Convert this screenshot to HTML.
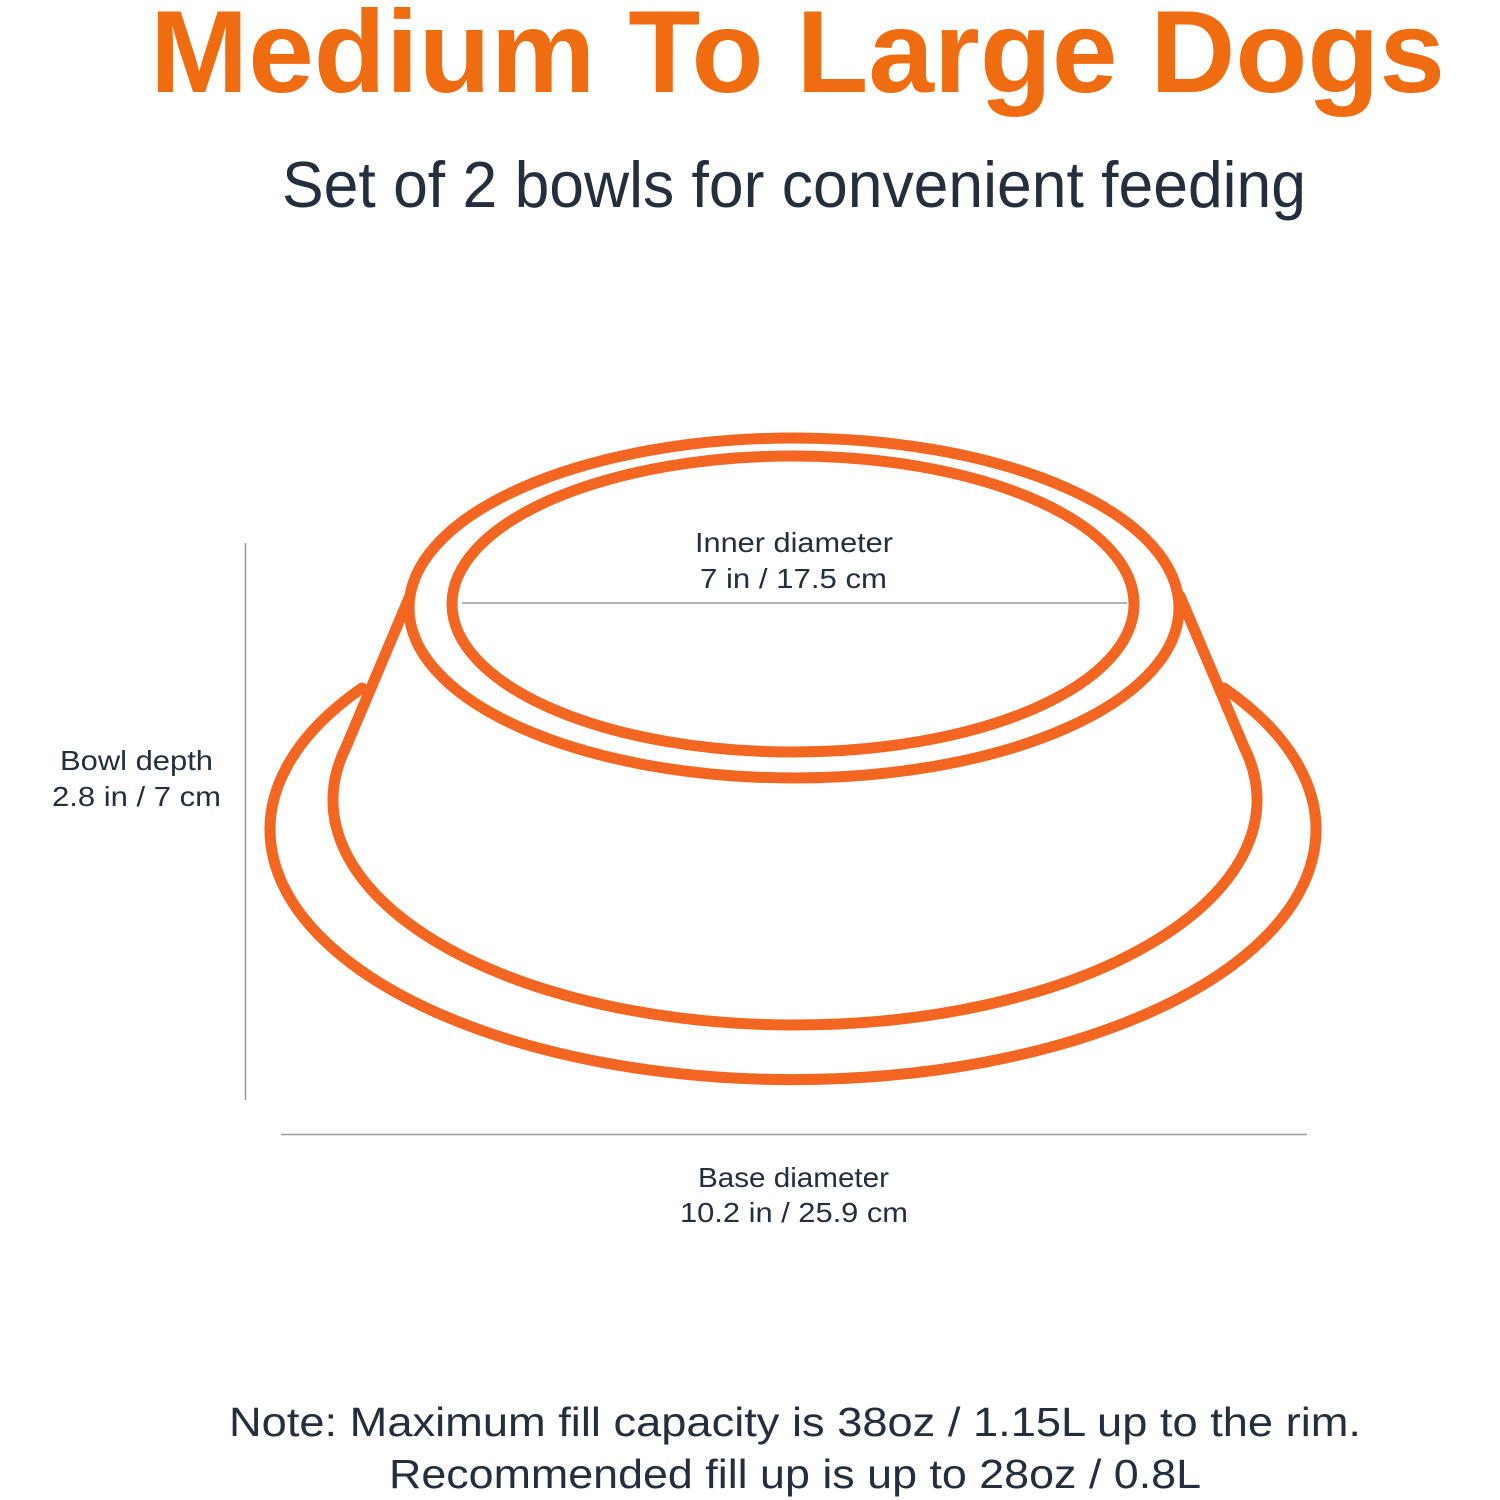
<!DOCTYPE html>
<html>
<head>
<meta charset="utf-8">
<style>
  html, body { margin: 0; padding: 0; background: #ffffff; }
  body { width: 1500px; height: 1500px; overflow: hidden; }
  svg { display: block; }
  .t { font-family: "Liberation Sans", "DejaVu Sans", sans-serif; }
</style>
</head>
<body>
<svg width="1500" height="1500" viewBox="0 0 1500 1500" xmlns="http://www.w3.org/2000/svg">
  <rect width="1500" height="1500" fill="#ffffff"/>

  <!-- Title -->
  <text class="t" x="150" y="92" font-size="117" font-weight="bold" fill="#F06C10" textLength="1295" lengthAdjust="spacingAndGlyphs">Medium To Large Dogs</text>
  <!-- Subtitle -->
  <text class="t" x="282" y="207" font-size="65" fill="#232F3E" textLength="1024" lengthAdjust="spacingAndGlyphs">Set of 2 bowls for convenient feeding</text>

  <!-- Bowl drawing -->
  <g fill="none" stroke="#F36622" stroke-width="11" stroke-linejoin="round" stroke-linecap="round">
    <!-- base flange -->
    <path d="M 362 688 A 523 250 0 1 0 1224 688"/>
    <!-- body -->
    <path d="M 409 598 L 346 747 A 462 225 0 1 0 1244 747 L 1180 596"/>
    <!-- outer rim -->
    <ellipse cx="794" cy="608" rx="385" ry="170"/>
    <!-- inner rim -->
    <ellipse cx="793" cy="604" rx="341" ry="148"/>
  </g>

  <!-- dimension lines -->
  <line x1="462" y1="603" x2="1127" y2="603" stroke="#9a9a9a" stroke-width="1.5"/>
  <line x1="245.5" y1="543" x2="245.5" y2="1100" stroke="#9a9a9a" stroke-width="1.5"/>
  <line x1="281" y1="1134.5" x2="1307" y2="1134.5" stroke="#9a9a9a" stroke-width="1.5"/>

  <!-- labels -->
  <g class="t" fill="#232F3E" font-size="28">
    <text x="695" y="552" textLength="198" lengthAdjust="spacingAndGlyphs">Inner diameter</text>
    <text x="700" y="588" textLength="187" lengthAdjust="spacingAndGlyphs">7 in / 17.5 cm</text>

    <text x="60" y="770" textLength="153" lengthAdjust="spacingAndGlyphs">Bowl depth</text>
    <text x="52" y="806" textLength="169" lengthAdjust="spacingAndGlyphs">2.8 in / 7 cm</text>

    <text x="698" y="1187" textLength="191" lengthAdjust="spacingAndGlyphs">Base diameter</text>
    <text x="680" y="1222" textLength="228" lengthAdjust="spacingAndGlyphs">10.2 in / 25.9 cm</text>
  </g>

  <!-- note -->
  <g class="t" fill="#232F3E" font-size="41">
    <text x="229" y="1436" textLength="1132" lengthAdjust="spacingAndGlyphs">Note: Maximum fill capacity is 38oz / 1.15L up to the rim.</text>
    <text x="389" y="1488" textLength="812" lengthAdjust="spacingAndGlyphs">Recommended fill up is up to 28oz / 0.8L</text>
  </g>
</svg>
</body>
</html>
